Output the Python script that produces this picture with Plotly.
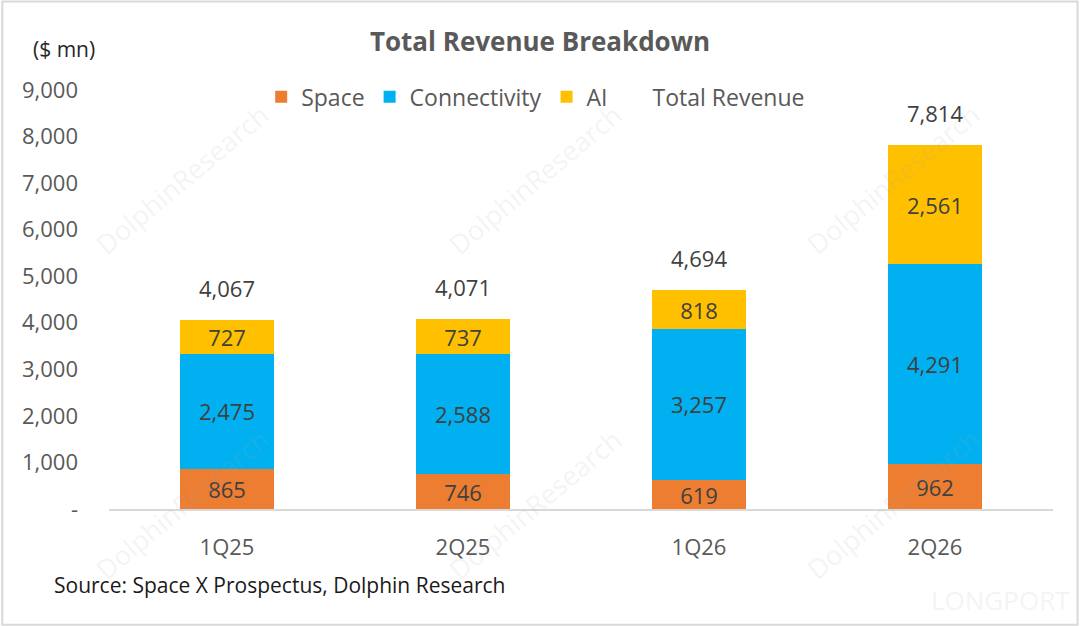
import plotly.graph_objects as go

# datos
quarters = ["1Q25", "2Q25", "1Q26", "2Q26"]
space = [865, 746, 619, 962]
connectivity = [2475, 2588, 3257, 4291]
ai = [727, 737, 818, 2561]
total_revenue = [4067, 4071, 4694, 7814]

y_ticks = [0, 1000, 2000, 3000, 4000, 5000, 6000, 7000, 8000, 9000]
y_tick_labels = ["-", "1,000", "2,000", "3,000", "4,000", "5,000", "6,000", "7,000", "8,000", "9,000"]

FONT = "Open Sans"
GRIS = "#595959"

fig = go.Figure()

series = [
    ("Space", space, "#ED7D31"),
    ("Connectivity", connectivity, "#00B0F0"),
    ("AI", ai, "#FFC000"),
]
for nombre, valores, color in series:
    fig.add_trace(go.Bar(
        x=quarters, y=valores, name=nombre,
        marker=dict(color=color, line=dict(width=0)),
        width=0.4,
        text=[f"{v:,}" for v in valores],
        textposition="inside", insidetextanchor="middle",
        textfont=dict(family=FONT, size=22, color="#404040"),
        hoverinfo="x+y+name",
    ))

# linea invisible solo para la leyenda "Total Revenue"
fig.add_trace(go.Scatter(
    x=quarters, y=total_revenue, name="Total Revenue",
    mode="lines", line=dict(color="rgba(0,0,0,0)", width=2),
    hoverinfo="x+y+name",
))

# etiquetas de total encima de cada barra
for q, t in zip(quarters, total_revenue):
    fig.add_annotation(x=q, y=t, text=f"{t:,}", showarrow=False,
                       yshift=32, yanchor="middle",
                       font=dict(family=FONT, size=22, color="#404040"))

# marcas de agua
for wx, wy in [(0.077, 0.786), (0.451, 0.786), (0.830, 0.786),
               (0.077, 0.010), (0.451, 0.010), (0.830, 0.010)]:
    fig.add_annotation(xref="paper", yref="paper", x=wx, y=wy,
                       xanchor="center", yanchor="middle",
                       text="DolphinResearch", showarrow=False, textangle=-40,
                       font=dict(family=FONT, size=27, color="rgba(170,170,170,0.15)"))
fig.add_annotation(xref="paper", yref="paper", x=0.944, y=-0.217,
                   xanchor="center", yanchor="middle",
                   text="LONGPORT", showarrow=False,
                   font=dict(family=FONT, size=26, color="rgba(170,170,170,0.15)"))

fig.add_annotation(xref="paper", yref="paper", x=-0.048, y=1.097,
                   text="($ mn)", showarrow=False, xanchor="center", yanchor="middle",
                   font=dict(family=FONT, size=21, color="#262626"))
fig.add_annotation(xref="paper", yref="paper", x=-0.060, y=-0.182,
                   text="Source: Space X Prospectus, Dolphin Research", showarrow=False,
                   xanchor="left", yanchor="middle",
                   font=dict(family=FONT, size=21, color="#1a1a1a"))

# borde de la imagen
fig.add_shape(type="rect", xref="paper", yref="paper",
              x0=-0.113, x1=1.026, y0=-0.276, y1=1.211,
              line=dict(color="#d9d9d9", width=2))

fig.update_layout(
    width=1080, height=626,
    barmode="stack",
    paper_bgcolor="white", plot_bgcolor="white",
    margin=dict(l=109, r=27, t=90, b=117),
    font=dict(family=FONT, size=22, color=GRIS),
    title=dict(text="<b>Total Revenue Breakdown</b>", x=0.5, xanchor="center",
               y=0.933, yanchor="middle",
               font=dict(family=FONT, size=26, color=GRIS)),
    legend=dict(orientation="h", x=0.452, xanchor="center", y=0.984, yanchor="middle",
                traceorder="normal", font=dict(family=FONT, size=23, color=GRIS),
                bgcolor="rgba(0,0,0,0)"),
    showlegend=True,
    uniformtext=dict(minsize=22, mode="show"),
)
fig.update_xaxes(showline=True, linecolor="#d9d9d9", linewidth=1.5,
                 showgrid=False, ticks="", ticklabelstandoff=18,
                 tickfont=dict(family=FONT, size=22, color=GRIS))
fig.update_yaxes(range=[0, 9000], tickvals=y_ticks, ticktext=y_tick_labels,
                 showgrid=False, zeroline=False, showline=False,
                 ticklabelstandoff=30,
                 tickfont=dict(family=FONT, size=22, color=GRIS))

fig.write_html("out.html", config={"displayModeBar": False},
               post_script="document.body.style.margin='0';")
